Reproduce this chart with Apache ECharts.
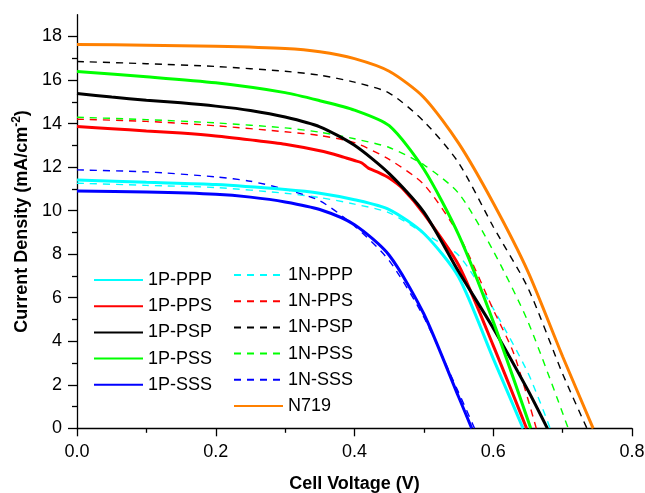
<!DOCTYPE html>
<html><head><meta charset="utf-8">
<script src="https://cdn.jsdelivr.net/npm/echarts@6/dist/echarts.min.js"></script>
<style>html,body{margin:0;padding:0;background:#fff}#c{width:645px;height:493px}</style>
</head><body><div id="c"></div>
<script>
// ---- tick values ----
const yMajorTicks = [0, 2, 4, 6, 8, 10, 12, 14, 16, 18];
const yMinorTicks = [1, 3, 5, 7, 9, 11, 13, 15, 17];
const xTicks = [0, 0.2, 0.4, 0.6, 0.8];

// ---- series data (voltage V, current density mA/cm^2) ----
const V_1P_PPP = [0, 0.1, 0.2, 0.3, 0.35, 0.4, 0.45, 0.5, 0.55, 0.6, 0.643];
const J_1P_PPP = [11.41, 11.3, 11.2, 10.97, 10.8, 10.5, 10.05, 8.95, 6.95, 3.2, 0];

const V_1P_PPS = [0, 0.05, 0.1, 0.15, 0.2, 0.25, 0.3, 0.35, 0.38, 0.4, 0.41, 0.42, 0.435, 0.45, 0.47, 0.5, 0.55, 0.6, 0.648];
const J_1P_PPS = [13.86, 13.76, 13.66, 13.56, 13.43, 13.25, 13.05, 12.75, 12.5, 12.3, 12.2, 11.95, 11.75, 11.5, 11.0, 9.85, 7.5, 3.8, 0];

const V_1P_PSP = [0, 0.05, 0.1, 0.15, 0.2, 0.25, 0.3, 0.35, 0.4, 0.45, 0.5, 0.55, 0.6, 0.65, 0.678];
const J_1P_PSP = [15.38, 15.22, 15.07, 14.95, 14.8, 14.6, 14.3, 13.85, 13.0, 11.7, 9.93, 7.2, 4.6, 1.75, 0];

const V_1P_PSS = [0, 0.1, 0.2, 0.3, 0.35, 0.4, 0.45, 0.5, 0.55, 0.6, 0.654];
const J_1P_PSS = [16.39, 16.15, 15.87, 15.42, 15.05, 14.62, 13.9, 11.9, 8.9, 4.9, 0];

const V_1P_SSS = [0, 0.1, 0.2, 0.25, 0.3, 0.35, 0.4, 0.45, 0.5, 0.55, 0.569];
const J_1P_SSS = [10.9, 10.85, 10.75, 10.62, 10.4, 10.05, 9.35, 7.95, 5.25, 1.45, 0];

const V_1N_PPP = [0, 0.1, 0.2, 0.3, 0.35, 0.4, 0.45, 0.5, 0.55, 0.6, 0.65, 0.682];
const J_1N_PPP = [11.26, 11.16, 11.06, 10.8, 10.6, 10.3, 9.9, 8.95, 7.95, 5.5, 2.55, 0];

const V_1N_PPS = [0, 0.1, 0.2, 0.3, 0.35, 0.4, 0.45, 0.5, 0.55, 0.6, 0.63, 0.662];
const J_1N_PPS = [14.2, 14.1, 13.9, 13.62, 13.45, 13.12, 12.35, 11.2, 8.9, 5.45, 3.4, 0];

const V_1N_PSP = [0, 0.1, 0.2, 0.3, 0.35, 0.4, 0.45, 0.5, 0.55, 0.6, 0.65, 0.7, 0.735];
const J_1N_PSP = [16.85, 16.75, 16.62, 16.4, 16.22, 15.9, 15.4, 14.1, 12.2, 9.26, 6.45, 2.5, 0];

const V_1N_PSS = [0, 0.1, 0.2, 0.3, 0.35, 0.4, 0.45, 0.5, 0.55, 0.6, 0.65, 0.708];
const J_1N_PSS = [14.29, 14.18, 14.03, 13.8, 13.6, 13.3, 12.9, 12.1, 10.8, 8.15, 4.9, 0];

const V_1N_SSS = [0, 0.1, 0.2, 0.25, 0.3, 0.35, 0.4, 0.45, 0.5, 0.55, 0.573];
const J_1N_SSS = [11.87, 11.78, 11.55, 11.35, 10.98, 10.45, 9.3, 7.7, 5.1, 1.65, 0];

const V_N719 = [0, 0.1, 0.2, 0.3, 0.35, 0.4, 0.45, 0.5, 0.55, 0.6, 0.65, 0.7, 0.744];
const J_N719 = [17.63, 17.6, 17.55, 17.45, 17.3, 16.98, 16.4, 15.2, 13.1, 10.35, 7.2, 3.3, 0];

const legendLeft = ['1P-PPP', '1P-PPS', '1P-PSP', '1P-PSS', '1P-SSS'];
const legendRight = ['1N-PPP', '1N-PPS', '1N-PSP', '1N-PSS', '1N-SSS', 'N719'];

const pairs = (vs, js) => vs.map((v, i) => [v, js[i]]);
const FONT = 'Arial, "Liberation Sans", sans-serif';

function line(name, vs, js, color, dashed) {
  return {
    name, type: 'line', data: pairs(vs, js),
    showSymbol: false, symbol: 'none',
    smooth: 0.25,
    lineStyle: dashed ? {color, width: 1.4, type: [7, 6]} : {color, width: 3},
    itemStyle: {color},
    z: dashed ? 2 : 3,
    animation: false
  };
}

const series = [
  line('1N-PPP', V_1N_PPP, J_1N_PPP, '#00FFFF', true),
  line('1N-PPS', V_1N_PPS, J_1N_PPS, '#FF0000', true),
  line('1N-PSP', V_1N_PSP, J_1N_PSP, '#000000', true),
  line('1N-PSS', V_1N_PSS, J_1N_PSS, '#00FF00', true),
  line('1N-SSS', V_1N_SSS, J_1N_SSS, '#0000FF', true),
  line('1P-PPP', V_1P_PPP, J_1P_PPP, '#00FFFF', false),
  line('1P-PPS', V_1P_PPS, J_1P_PPS, '#FF0000', false),
  line('1P-PSP', V_1P_PSP, J_1P_PSP, '#000000', false),
  line('1P-PSS', V_1P_PSS, J_1P_PSS, '#00FF00', false),
  line('1P-SSS', V_1P_SSS, J_1P_SSS, '#0000FF', false),
  line('N719', V_N719, J_N719, '#FF8000', false)
];

const legendBase = {
  orient: 'vertical', padding: 0, itemWidth: 49, itemHeight: 14, itemGap: 8.2,
  itemStyle: {opacity: 0},
  textStyle: {fontSize: 18, fontFamily: FONT, color: '#000', lineHeight: 18},
  selectedMode: false
};

const chart = echarts.init(document.getElementById('c'), null, {renderer: 'canvas'});
chart.setOption({
  animation: false,
  backgroundColor: '#fff',
  grid: {left: 77, right: 13, top: 14.7, bottom: 64.7, containLabel: false, outerBoundsMode: 'none'},
  legend: [
    Object.assign({}, legendBase, {data: legendLeft, left: 93, top: 271}),
    Object.assign({}, legendBase, {data: legendRight, left: 233, top: 266})
  ],
  xAxis: {
    type: 'value', min: 0, max: 0.8, interval: 0.2,
    name: 'Cell Voltage (V)', nameLocation: 'middle', nameGap: 47,
    nameTextStyle: {fontSize: 18, fontWeight: 'bold', fontFamily: FONT, color: '#000'},
    axisLine: {show: true, lineStyle: {color: '#000', width: 1.3}},
    axisTick: {show: true, length: 8, lineStyle: {color: '#000', width: 1.3}},
    minorTick: {show: true, splitNumber: 2, length: 4.5, lineStyle: {color: '#000', width: 1.3}},
    splitLine: {show: false}, minorSplitLine: {show: false},
    axisLabel: {fontSize: 18, fontFamily: FONT, color: '#000', margin: 15,
      customValues: xTicks, formatter: v => v.toFixed(1)}
  },
  yAxis: [
    {
      type: 'value', min: 0, max: 19,
      name: '{b|Current Density (mA/cm}{s|-2}{b|)}',
      nameLocation: 'middle', nameGap: 46,
      nameTextStyle: {
        fontFamily: FONT, color: '#000',
        rich: {
          b: {fontSize: 18, fontWeight: 'bold', fontFamily: FONT, color: '#000', lineHeight: 20, verticalAlign: 'bottom'},
          s: {fontSize: 12, fontWeight: 'bold', fontFamily: FONT, color: '#000', lineHeight: 20, verticalAlign: 'top'}
        }
      },
      axisLine: {show: true, onZero: false, lineStyle: {color: '#000', width: 1.3}},
      axisTick: {show: true, length: 9, customValues: yMajorTicks, lineStyle: {color: '#000', width: 1.3}},
      splitLine: {show: false},
      axisLabel: {fontSize: 18, fontFamily: FONT, color: '#000', margin: 15, customValues: yMajorTicks}
    },
    {
      type: 'value', min: 0, max: 19, position: 'left',
      axisLine: {show: false},
      axisTick: {show: true, length: 5, customValues: yMinorTicks, lineStyle: {color: '#000', width: 1.3}},
      splitLine: {show: false},
      axisLabel: {show: false}
    }
  ],
  series
});
</script>
</body></html>
